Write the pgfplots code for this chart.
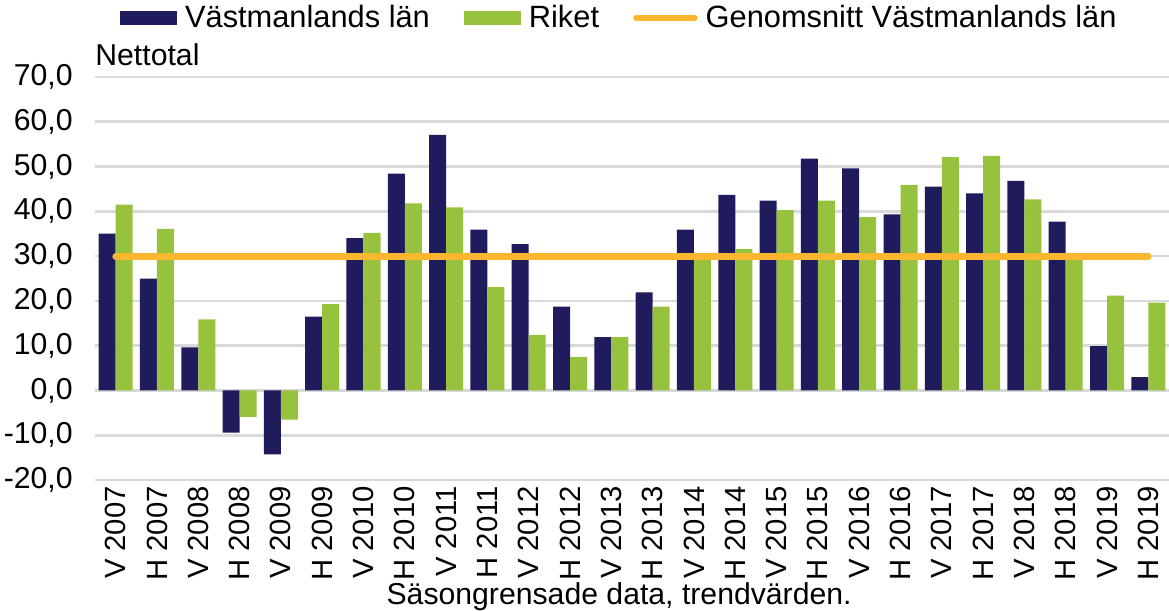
\documentclass[border=0pt]{standalone}
\usepackage{pgfplots}
\pgfplotsset{compat=1.18}
\usepackage{fontspec}
\setmainfont{Liberation Sans}
\definecolor{navy}{HTML}{1F1B5C}
\definecolor{lgreen}{HTML}{97C23D}
\definecolor{orng}{HTML}{FBB630}
\definecolor{gridc}{HTML}{D9D9D9}
\begin{document}
\fontsize{15.1}{18}\selectfont
\begin{tikzpicture}
\useasboundingbox (-47.5pt,-65.5pt) rectangle (537pt,240pt);
\begin{axis}[
  at={(0,0)}, anchor=south west,
  width=537pt, height=201.5pt, scale only axis,
  clip mode=individual,
  xmin=-0.5, xmax=25.5, ymin=-20, ymax=70,
  ytick={-20,-10,...,70},
  yticklabels={{-20,0},{-10,0},{0,0},{10,0},{20,0},{30,0},{40,0},{50,0},{60,0},{70,0}},
  xtick={0,...,25},
  xticklabels={V 2007,H 2007,V 2008,H 2008,V 2009,H 2009,V 2010,H 2010,V 2011,H 2011,V 2012,H 2012,V 2013,H 2013,V 2014,H 2014,V 2015,H 2015,V 2016,H 2016,V 2017,H 2017,V 2018,H 2018,V 2019,H 2019},
  xticklabel style={rotate=90, anchor=east, inner sep=3pt, font=\fontsize{14.6}{17}\selectfont},
  yticklabel style={anchor=east, inner sep=1pt, xshift=-10pt},
  ymajorgrids, grid style={gridc, line width=1.3pt},
  axis line style={draw=none}, tick style={draw=none},
  legend style={at={(0.491,1.146)}, anchor=center, draw=none, fill=none,
    font=\fontsize{15.4}{18}\selectfont,
    nodes={inner sep=4pt},
    legend columns=-1, /tikz/every even column/.append style={column sep=13pt}},
]
\addplot[fill=navy, draw=none, ybar, bar width=8.5pt, bar shift=-4.25pt,
  legend image code/.code={\fill[navy] (0pt,-3.5pt) rectangle (28.5pt,3.5pt);}]
  coordinates {(0,35.0)(1,25.0)(2,9.6)(3,-9.4)(4,-14.3)(5,16.5)(6,34.0)(7,48.4)(8,57.1)(9,35.9)(10,32.7)(11,18.7)(12,11.9)(13,21.9)(14,35.9)(15,43.7)(16,42.4)(17,51.8)(18,49.6)(19,39.3)(20,45.5)(21,44.0)(22,46.8)(23,37.7)(24,9.9)(25,3.0)};
\addlegendentry{Västmanlands län}
\addplot[fill=lgreen, draw=none, ybar, bar width=8.5pt, bar shift=4.25pt,
  legend image code/.code={\fill[lgreen] (0pt,-3.5pt) rectangle (28.5pt,3.5pt);}]
  coordinates {(0,41.5)(1,36.1)(2,15.9)(3,-5.9)(4,-6.5)(5,19.3)(6,35.2)(7,41.8)(8,40.9)(9,23.1)(10,12.4)(11,7.5)(12,11.9)(13,18.7)(14,29.5)(15,31.6)(16,40.3)(17,42.4)(18,38.7)(19,45.9)(20,52.1)(21,52.4)(22,42.7)(23,29.5)(24,21.2)(25,19.6)};
\addlegendentry{Riket}
\addplot[orng, line width=3.3pt, line cap=round, mark=none,
  legend image code/.code={\draw[orng, line width=3.3pt, line cap=round] (1pt,0pt) -- (30pt,0pt);}]
  coordinates {(0,29.9)(1,29.9)(2,29.9)(3,29.9)(4,29.9)(5,29.9)(6,29.9)(7,29.9)(8,29.9)(9,29.9)(10,29.9)(11,29.9)(12,29.9)(13,29.9)(14,29.9)(15,29.9)(16,29.9)(17,29.9)(18,29.9)(19,29.9)(20,29.9)(21,29.9)(22,29.9)(23,29.9)(24,29.9)(25,29.9)};
\addlegendentry{Genomsnitt Västmanlands län}
\node[anchor=base west, inner sep=0pt] at (rel axis cs:0,1) [yshift=6pt] {Nettotal};
\node[anchor=center, inner sep=0pt] at (rel axis cs:0.488,0) [yshift=-58.5pt] {Säsongrensade data, trendvärden.};
\end{axis}
\end{tikzpicture}
\end{document}
